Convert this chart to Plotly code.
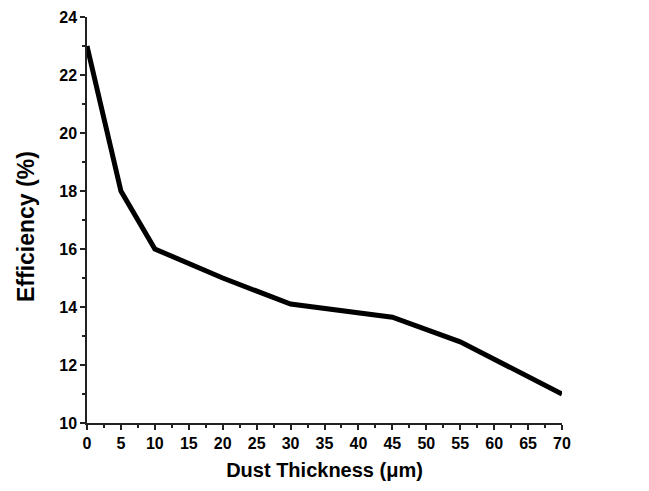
import plotly.graph_objects as go

thickness = [0, 5, 10, 20, 30, 45, 55, 70]
efficiency = [23.0, 18.0, 16.0, 15.0, 14.1, 13.65, 12.8, 11.0]

x_title = "Dust Thickness (μm)"
y_title = "Efficiency (%)"

fig = go.Figure()
fig.add_trace(go.Scatter(
    x=thickness, y=efficiency, mode="lines",
    line=dict(color="black", width=5),
    showlegend=False,
))

font_family = "Liberation Sans, Arial, sans-serif"

fig.update_layout(
    width=649, height=491,
    margin=dict(l=79, r=95, t=9, b=76),
    paper_bgcolor="white", plot_bgcolor="white",
    font=dict(family=font_family, color="black"),
)

fig.update_xaxes(
    range=[0, 70], dtick=5, tick0=0, automargin=False,
    showgrid=False, zeroline=False,
    showline=True, linecolor="#222", linewidth=1.5,
    ticks="outside", ticklen=5, tickwidth=1.5, tickcolor="#222",
    minor=dict(dtick=2.5, ticks="outside", ticklen=3, tickwidth=1.5, tickcolor="#222", showgrid=False),
    tickfont=dict(size=16, family=font_family, weight="bold"),
    title=dict(text=x_title, font=dict(size=20, weight="bold", family=font_family), standoff=12),
)
fig.update_yaxes(
    range=[10, 24], dtick=2, tick0=10, automargin=False,
    showgrid=False, zeroline=False,
    showline=True, linecolor="#222", linewidth=1.5,
    ticks="outside", ticklen=5, tickwidth=1.5, tickcolor="#222",
    minor=dict(dtick=1, ticks="outside", ticklen=3, tickwidth=1.5, tickcolor="#222", showgrid=False),
    tickfont=dict(size=16, family=font_family, weight="bold"),
)

fig.add_annotation(
    text=y_title, xref="paper", yref="paper", x=0, y=0.5,
    xanchor="center", yanchor="middle", textangle=-90,
    xshift=-61, yshift=-7, showarrow=False,
    font=dict(size=23, weight="bold", family=font_family, color="black"),
)

fig.write_html("out.html")
